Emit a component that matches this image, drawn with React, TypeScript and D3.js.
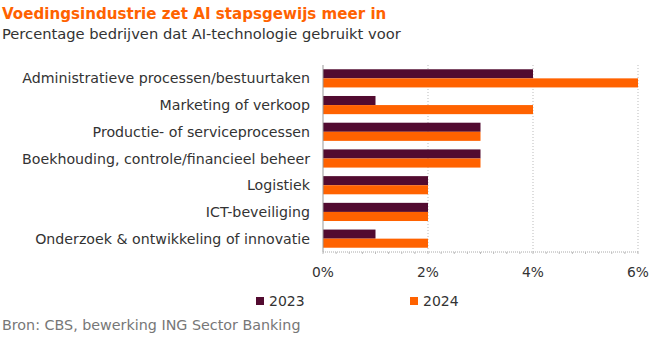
import React from "react";
import * as d3 from "d3";

const categories = [
  "Administratieve processen/bestuurtaken",
  "Marketing of verkoop",
  "Productie- of serviceprocessen",
  "Boekhouding, controle/financieel beheer",
  "Logistiek",
  "ICT-beveiliging",
  "Onderzoek & ontwikkeling of innovatie",
];
const series2023 = [4, 1, 3, 3, 2, 2, 1];
const series2024 = [6, 4, 3, 3, 2, 2, 2];
const seriesNames = ["2023", "2024"];
const xTicks = [0, 2, 4, 6];

const W = 665;
const H = 340;
const font = "'DejaVu Sans', sans-serif";
const C2023 = "#520B30";
const C2024 = "#FF6200";

export default function App() {
  const x = d3.scaleLinear().domain([0, 6]).range([323, 638]);
  const y = d3.scaleBand<string>().domain(categories).range([65, 252]).paddingInner(0.32).paddingOuter(0.16);
  const sub = d3.scaleBand<string>().domain(seriesNames).range([0, y.bandwidth()]);
  const data = [series2023, series2024];
  const colors = [C2023, C2024];
  const minor = d3.range(0, 6.0001, 0.25);

  return (
    <svg width={W} height={H} style={{ position: "absolute", left: 0, top: 0, background: "#fff" }} fontFamily={font}>
      <text x={2} y={19} fontSize={15.1} fontWeight={700} fill="#FF6200">Voedingsindustrie zet AI stapsgewijs meer in</text>
      <text x={2} y={39} fontSize={14.7} fill="#333">Percentage bedrijven dat AI-technologie gebruikt voor</text>

      {xTicks.filter((t) => t > 0).map((t) => (
        <line key={t} x1={x(t)} x2={x(t)} y1={65} y2={252} stroke="#bbb" strokeDasharray="1,2" />
      ))}

      {categories.map((c, i) => (
        <g key={c}>
          {data.map((s, k) => (
            <rect
              key={k}
              x={x(0)}
              y={(y(c) as number) + (sub(seriesNames[k]) as number)}
              width={x(s[i]) - x(0)}
              height={sub.bandwidth()}
              fill={colors[k]}
            />
          ))}
          <text
            x={310}
            y={(y(c) as number) + y.bandwidth() / 2}
            textAnchor="end"
            dominantBaseline="central"
            fontSize={14.2}
            fill="#333"
          >
            {c}
          </text>
        </g>
      ))}

      <line x1={x(0)} x2={x(0)} y1={65} y2={252} stroke="#999" />
      <line x1={x(0)} x2={x(6)} y1={252} y2={252} stroke="#aaa" strokeDasharray="1,1" />
      {minor.map((t) => (
        <line key={t} x1={x(t)} x2={x(t)} y1={252} y2={254} stroke="#bbb" />
      ))}

      {xTicks.map((t) => (
        <text key={t} x={x(t)} y={277} textAnchor="middle" fontSize={13.8} fill="#333">
          {t}%
        </text>
      ))}

      <rect x={256} y={297} width={8} height={8} fill={C2023} />
      <text x={269} y={306} fontSize={14} fill="#333">2023</text>
      <rect x={410} y={297} width={8} height={8} fill={C2024} />
      <text x={423} y={306} fontSize={14} fill="#333">2024</text>

      <text x={2} y={330} fontSize={14.3} fill="#777">Bron: CBS, bewerking ING Sector Banking</text>
    </svg>
  );
}
